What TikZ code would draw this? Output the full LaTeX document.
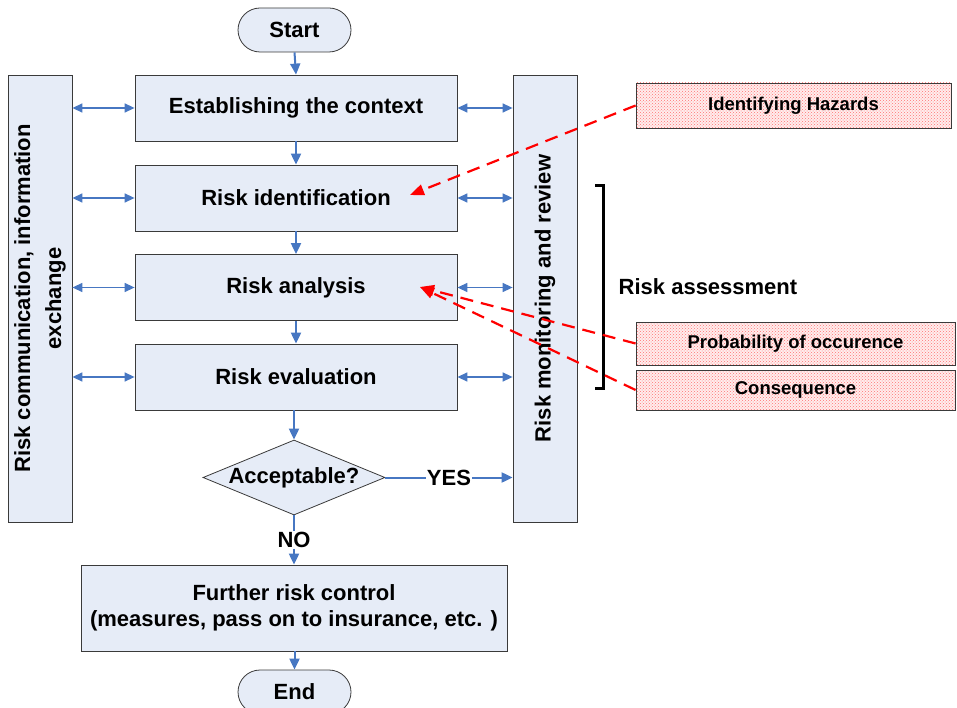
\documentclass[tikz,border=0pt]{standalone}
\usepackage{fontspec}
\setmainfont{Liberation Sans}
\usetikzlibrary{shapes.geometric,arrows.meta,patterns,calc}
\definecolor{boxfill}{HTML}{E6ECF7}
\definecolor{arrblue}{HTML}{4777C2}
\definecolor{edgegray}{HTML}{3A3A3A}
\begin{document}
\begin{tikzpicture}[x=1pt,y=-1pt,
  font=\fontsize{22}{26}\selectfont\bfseries,
  stadium/.style={draw=edgegray, line width=0.8pt, fill=boxfill, rounded corners=22pt, minimum width=113pt, minimum height=44pt, inner sep=0pt},
  procbox/.style={draw=edgegray, line width=0.8pt, fill=boxfill, minimum width=322pt, minimum height=66pt, inner sep=0pt},
  sidebox/.style={draw=edgegray, line width=0.8pt, fill=boxfill, minimum width=64pt, minimum height=447pt, inner sep=0pt},
  hazbox/.style={draw=edgegray, line width=0.8pt, preaction={fill=red!7}, pattern=crosshatch dots, pattern color=red!55, inner sep=0pt, font=\fontsize{18.5}{22}\selectfont\bfseries},
  flow/.style={draw=arrblue, line width=2pt, -{Triangle[length=11pt,width=10pt]}},
  plainline/.style={draw=arrblue, line width=2pt},
  dbl/.style={draw=arrblue, line width=1.4pt, {Triangle[length=10pt,width=9pt]}-{Triangle[length=10pt,width=9pt]}},
  reddash/.style={draw=red, line width=2.2pt, dash pattern=on 13pt off 8pt, -{Triangle[length=14pt,width=11pt]}},
  lbl/.style={fill=white, inner sep=1pt}
]
\useasboundingbox (0,0) rectangle (957,708);

% side boxes
\node[sidebox] (comm) at (40,298.5) {};
\node[rotate=90, align=center, font=\fontsize{22}{31}\selectfont\bfseries] (commt) at (comm.center) {Risk communication, information\\exchange};
\node[sidebox] (mon) at (545,298.5) {};
\node[rotate=90] (mont) at (mon.center) {Risk monitoring and review};

% main flow
\node[stadium] (start) at (294.5,30) {Start};
\node[procbox] (ctx) at (296,108) {Establishing the context};
\node[procbox] (rid) at (296,198) {Risk identification};
\node[procbox] (ran) at (296,287.5) {Risk analysis};
\node[procbox] (rev) at (296,377) {Risk evaluation};
\node[diamond, draw=edgegray, line width=0.8pt, fill=boxfill, minimum width=182pt, minimum height=75pt, inner sep=0pt] (acc) at (294,477.5) {};
\node (acct) at (acc.center) {Acceptable?};
\node[draw=edgegray, line width=0.8pt, fill=boxfill, minimum width=426pt, minimum height=86pt, align=center, inner sep=0pt] (ctl) at (294,608) {Further risk control\\(measures, pass on to insurance, etc. )};
\node[stadium] (fin) at (294.5,692) {End};

\node[lbl] (no) at (294,540) {NO};
\node[lbl] (yes) at (449,477.5) {YES};

% right boxes
\node[hazbox, minimum width=315pt, minimum height=45pt] (hz) at (793.5,105.5) {Identifying Hazards};
\node[hazbox, minimum width=319pt, minimum height=43pt] (prob) at (795.5,343.5) {Probability of occurence};
\node[hazbox, minimum width=319pt, minimum height=40pt] (cons) at (795.5,390) {Consequence};

\node (ra) at (708,287) {Risk assessment};
\coordinate (b1) at (595,186);
\coordinate (b2) at (603,186);
\coordinate (b3) at (603,388);
\coordinate (b4) at (595,388);
\draw[line width=3pt] (b1) -- (b2) -- (b3) -- (b4);

% vertical flow
\draw[flow] (start.south) -- (ctx.north);
\draw[flow] (ctx.south) -- (rid.north);
\draw[flow] (rid.south) -- (ran.north);
\draw[flow] (ran.south) -- (rev.north);
\draw[flow] (rev.south -| acc.north) -- (acc.north);
\draw[plainline] (acc.south) -- (no.north);
\draw[flow] (no.south) -- (ctl.north);
\draw[flow] (ctl.south -| fin.north) -- (fin.north);
\draw[plainline] (acc.east) -- (yes.west);
\draw[flow] (yes.east) -- (yes.east -| mon.west);

% double arrows
\foreach \b in {ctx,rid,ran,rev}{
  \draw[dbl] (comm.east |- \b.west) -- (\b.west);
  \draw[dbl] (\b.east) -- (mon.west |- \b.east);
}

% red dashed
\coordinate (t1) at (410,195);
\coordinate (t2) at (420,287);
\draw[reddash] (hz.west) -- (t1);
\draw[reddash] (prob.west) -- (t2);
\draw[reddash] (cons.west) -- (t2);
\end{tikzpicture}
\end{document}
